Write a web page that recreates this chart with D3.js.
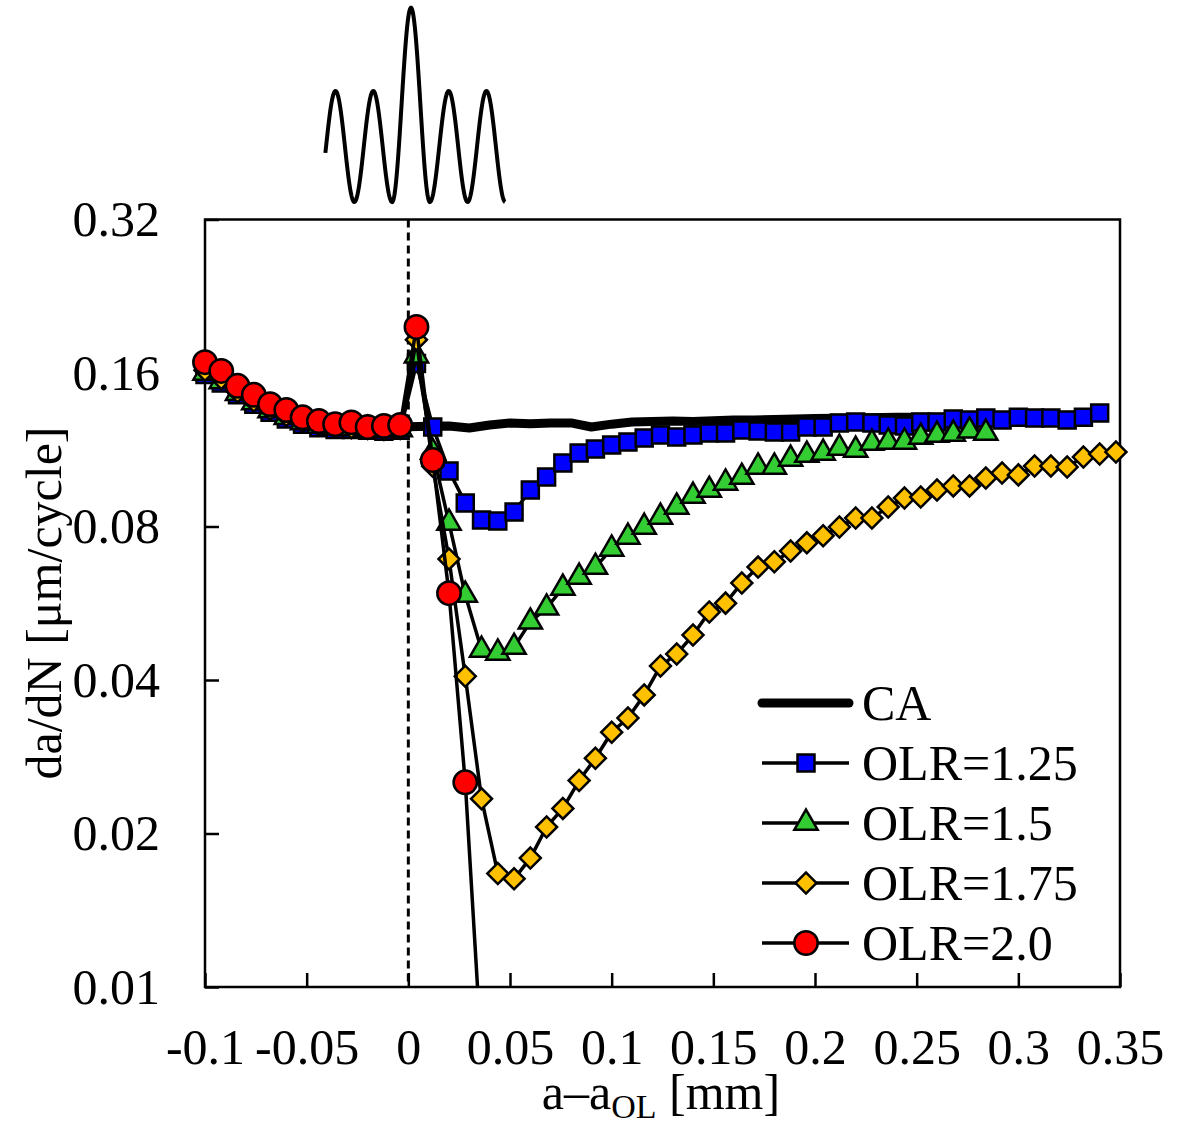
<!DOCTYPE html>
<head>
  <meta charset="utf-8">
  <script src="https://d3js.org/d3.v7.min.js"></script>
  <style>
    body { margin:0; background:#fff; }
    svg { display:block; }
    text { font-family: 'Liberation Serif', 'Times New Roman', serif; fill:#000; }
  </style>
</head>

<body>
  <svg width="1193" height="1121"></svg>
  <script>
    // crack length a - a_OL [mm] for the overload series (before, at and after the overload)
    var xGrid = [-0.1, -0.092, -0.084, -0.076, -0.068, -0.060, -0.052, -0.044, -0.036, -0.028, -0.020, -0.012, -0.004,
      0.004,
      0.012, 0.020, 0.028, 0.036, 0.044, 0.052, 0.060, 0.068, 0.076, 0.084, 0.092, 0.100, 0.108, 0.116, 0.124,
      0.132, 0.140, 0.148, 0.156, 0.164, 0.172, 0.180, 0.188, 0.196, 0.204, 0.212, 0.220, 0.228, 0.236, 0.244,
      0.252, 0.260, 0.268, 0.276, 0.284, 0.292, 0.300, 0.308, 0.316, 0.324, 0.332, 0.340, 0.348];

    // da/dN [um/cycle], one value per xGrid entry (series stop where the data stops)
    var olr125 = [0.159, 0.153, 0.145, 0.139, 0.134, 0.130, 0.127, 0.125, 0.124, 0.124, 0.1235, 0.123, 0.1235,
      0.167,
      0.1254, 0.1028, 0.089, 0.0824, 0.082, 0.0854, 0.0943, 0.100, 0.1066, 0.1115, 0.1135, 0.1156, 0.1172, 0.1193, 0.1209,
      0.1198, 0.1209, 0.122, 0.122, 0.1237, 0.1232, 0.1226, 0.1226, 0.1254, 0.1254, 0.1277, 0.1282, 0.1277, 0.1265, 0.126,
      0.1282, 0.1282, 0.130, 0.1294, 0.1306, 0.1294, 0.131, 0.1306, 0.1306, 0.1294, 0.131, 0.1336];
    var olr15 = [0.160, 0.154, 0.146, 0.140, 0.135, 0.131, 0.128, 0.126, 0.125, 0.1245, 0.124, 0.1235, 0.124,
      0.173,
      0.112, 0.0813, 0.0587, 0.0458, 0.0452, 0.0464, 0.052, 0.0554, 0.0606, 0.0637, 0.0666, 0.0723, 0.0763, 0.0798, 0.0835,
      0.0874, 0.0918, 0.0943, 0.0974, 0.100, 0.1047, 0.1047, 0.1085, 0.1105, 0.1115, 0.114, 0.113, 0.1166, 0.1172, 0.1172,
      0.1198, 0.1209, 0.1215, 0.1232, 0.122];
    var olr175 = [0.162, 0.156, 0.147, 0.141, 0.136, 0.132, 0.1285, 0.1265, 0.1255, 0.125, 0.1245, 0.124, 0.1245,
      0.186,
      0.105, 0.0691, 0.0407, 0.0234, 0.0167, 0.0163, 0.0179, 0.0206, 0.0224, 0.0254, 0.0281, 0.0316, 0.0337, 0.0374, 0.0426,
      0.045, 0.049, 0.0544, 0.0566, 0.062, 0.0666, 0.0682, 0.0716, 0.0743, 0.0767, 0.0798, 0.0831, 0.0831, 0.0874, 0.091,
      0.0914, 0.0943, 0.0961, 0.0961, 0.0996, 0.1019, 0.101, 0.1051, 0.1051, 0.1047, 0.1095, 0.111, 0.112];
    var olr20 = [0.168, 0.1615, 0.151, 0.145, 0.139, 0.1354, 0.131, 0.1288, 0.127, 0.128, 0.1254, 0.126, 0.1265,
      0.197,
      0.108, 0.0592, 0.0252, 0.0074];

    // constant amplitude reference
    var caX = [-0.1, -0.09, -0.08, -0.07, -0.06, -0.05, -0.04, -0.03, -0.02, -0.01, 0,
      0.01, 0.02, 0.03, 0.04, 0.05, 0.06, 0.07, 0.08, 0.09, 0.10, 0.11, 0.12, 0.13, 0.14, 0.15, 0.16, 0.17, 0.18, 0.19, 0.20,
      0.22, 0.24, 0.26, 0.28, 0.30, 0.32, 0.34];
    var caY = [0.160, 0.153, 0.145, 0.139, 0.134, 0.130, 0.128, 0.127, 0.126, 0.126, 0.1255,
      0.1258, 0.126, 0.1248, 0.1265, 0.1277, 0.1272, 0.1277, 0.1277, 0.1254, 0.127, 0.1282, 0.1285, 0.1288, 0.1285, 0.129,
      0.1294, 0.1294, 0.1297, 0.130, 0.1303,
      0.1306, 0.131, 0.131, 0.1315, 0.132, 0.132, 0.1325];

    var xTicks = [-0.1, -0.05, 0, 0.05, 0.1, 0.15, 0.2, 0.25, 0.3, 0.35];
    var xTickLabels = ['-0.1', '-0.05', '0', '0.05', '0.1', '0.15', '0.2', '0.25', '0.3', '0.35'];
    var yTicks = [0.01, 0.02, 0.04, 0.08, 0.16, 0.32];
    var yTickLabels = ['0.01', '0.02', '0.04', '0.08', '0.16', '0.32'];
    var legendLabels = ['CA', 'OLR=1.25', 'OLR=1.5', 'OLR=1.75', 'OLR=2.0'];

    // relative peak height of each loading cycle in the sketch above the plot
    var waveCycles = [1, 1, 1.75, 1, 1];

    var plot = {left: 205, right: 1120, top: 219.5, bottom: 987};
    var fontSize = 50;

    var svg = d3.select('svg');

    var xScale = d3.scaleLinear()
      .domain([-0.1, 0.35])
      .range([plot.left, plot.right]);

    var yScale = d3.scaleLog()
      .base(2)
      .domain([0.01, 0.32])
      .range([plot.bottom, plot.top]);

    svg.append('clipPath').attr('id', 'plotClip')
      .append('rect')
      .attr('x', plot.left).attr('y', plot.top)
      .attr('width', plot.right - plot.left).attr('height', plot.bottom - plot.top);

    // AXES
    var xAxis = d3.axisBottom(xScale)
      .tickValues(xTicks)
      .tickFormat((d, i) => xTickLabels[i])
      .tickSizeInner(-14).tickSizeOuter(0).tickPadding(41);

    var yAxis = d3.axisLeft(yScale)
      .tickValues(yTicks)
      .tickFormat((d, i) => yTickLabels[i])
      .tickSizeInner(-14).tickSizeOuter(0).tickPadding(45);

    [svg.append('g').attr('transform', 'translate(0,' + plot.bottom + ')').call(xAxis),
     svg.append('g').attr('transform', 'translate(' + plot.left + ',0)').call(yAxis)]
      .forEach(g => {
        g.attr('font-size', fontSize).attr('font-family', null);
        g.select('.domain').remove();
        g.selectAll('.tick line').attr('stroke', '#000').attr('stroke-width', 2.5);
      });

    // frame
    svg.append('rect')
      .attr('x', plot.left).attr('y', plot.top)
      .attr('width', plot.right - plot.left).attr('height', plot.bottom - plot.top)
      .attr('fill', 'none').attr('stroke', '#000').attr('stroke-width', 2.5);

    // overload position
    svg.append('line')
      .attr('x1', xScale(0)).attr('x2', xScale(0))
      .attr('y1', plot.top).attr('y2', plot.bottom)
      .attr('stroke', '#000').attr('stroke-width', 3)
      .attr('stroke-dasharray', '8,5');

    // axis titles
    svg.append('text')
      .attr('transform', 'translate(61,603) rotate(-90)')
      .attr('text-anchor', 'middle')
      .attr('font-size', fontSize)
      .text('da/dN [\u03bcm/cycle]');

    var xt = svg.append('text')
      .attr('x', 661).attr('y', 1109)
      .attr('text-anchor', 'middle')
      .attr('font-size', fontSize);
    xt.append('tspan').text('a\u2013a');
    xt.append('tspan').attr('font-size', 34).attr('dy', 9).text('OL');
    xt.append('tspan').attr('dy', -9).text(' [mm]');

    // SERIES
    var line = d3.line()
      .x(d => xScale(d[0]))
      .y(d => yScale(d[1]));

    svg.append('path')
      .datum(caX.map((x, i) => [x, caY[i]]))
      .attr('clip-path', 'url(#plotClip)')
      .attr('d', line)
      .attr('fill', 'none').attr('stroke', '#000')
      .attr('stroke-width', 9).attr('stroke-linejoin', 'round');

    var series = [
      {vals: olr125, symbol: d3.symbolSquare, size: 289, fill: '#0000ff', rot: 0},
      {vals: olr15, symbol: d3.symbolTriangle, size: 235, fill: '#33cc33', rot: 0},
      {vals: olr175, symbol: d3.symbolSquare, size: 220, fill: '#ffc000', rot: 45},
      {vals: olr20, symbol: d3.symbolCircle, size: 430, fill: '#ff0000', rot: 0}
    ];

    series.forEach(s => {
      var pts = s.vals.map((v, i) => [xGrid[i], v]);
      svg.append('path')
        .datum(pts)
        .attr('clip-path', 'url(#plotClip)')
        .attr('d', line)
        .attr('fill', 'none').attr('stroke', '#000')
        .attr('stroke-width', 3.5).attr('stroke-linejoin', 'round');

      svg.append('g').selectAll('path')
        .data(pts.filter(d => d[1] >= 0.01))
        .enter().append('path')
        .attr('transform', d => 'translate(' + xScale(d[0]) + ',' + yScale(d[1]) + ') rotate(' + s.rot + ')')
        .attr('d', d3.symbol().type(s.symbol).size(s.size))
        .attr('fill', s.fill)
        .attr('stroke', '#000').attr('stroke-width', 2.5);
    });

    // LEGEND
    var legend = svg.append('g');
    legendLabels.forEach((label, i) => {
      var ly = 703 + i * 60;
      legend.append('line')
        .attr('x1', 762).attr('x2', 849).attr('y1', ly).attr('y2', ly)
        .attr('stroke', '#000')
        .attr('stroke-width', i === 0 ? 9 : 3.5)
        .attr('stroke-linecap', i === 0 ? 'round' : 'butt');
      if (i > 0) {
        var s = series[i - 1];
        legend.append('path')
          .attr('transform', 'translate(806,' + ly + ') rotate(' + s.rot + ')')
          .attr('d', d3.symbol().type(s.symbol).size(s.size))
          .attr('fill', s.fill)
          .attr('stroke', '#000').attr('stroke-width', 2.5);
      }
      legend.append('text')
        .attr('x', 862).attr('y', ly + 17)
        .attr('font-size', fontSize)
        .text(label);
    });

    // loading sketch above the plot
    var period = 0.01856;
    var waveStart = -0.0451;
    var waveY = d3.scaleLinear().domain([0, 1]).range([202, 91]);
    var wavePts = [];
    for (var t = -0.0408; t <= waveStart + waveCycles.length * period + 1e-9; t += 0.0002) {
      var k = Math.min(waveCycles.length - 1, Math.floor((t - waveStart) / period));
      var phase = (t - waveStart) / period - k;
      wavePts.push([t, waveCycles[k] * (1 - Math.cos(2 * Math.PI * phase)) / 2]);
    }
    svg.append('path')
      .datum(wavePts)
      .attr('d', d3.line().x(d => xScale(d[0])).y(d => waveY(d[1])))
      .attr('fill', 'none').attr('stroke', '#000').attr('stroke-width', 4);
  </script>
</body>
